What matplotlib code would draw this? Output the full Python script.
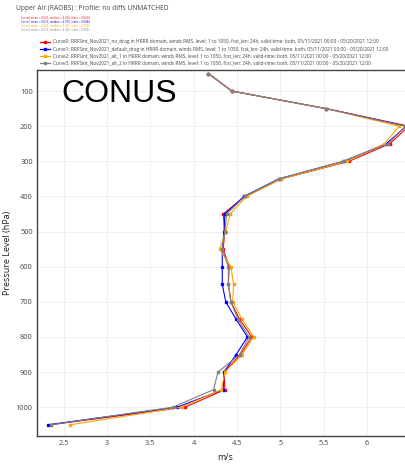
import matplotlib
matplotlib.use("Agg")
import matplotlib.pyplot as plt
from matplotlib.lines import Line2D

levels = [50, 100, 150, 200, 250, 300, 350, 400, 450, 500, 550,
          600, 650, 700, 750, 800, 850, 900, 950, 1000, 1050]

curve0 = [4.17, 4.44, 5.53, 6.48, 6.26, 5.79, 5.01, 4.59, 4.34, 4.36, 4.34,
          4.41, 4.40, 4.43, 4.53, 4.67, 4.54, 4.35, 4.36, 3.90, 2.35]
curve1 = [4.17, 4.44, 5.53, 6.45, 6.22, 5.73, 4.98, 4.58, 4.36, 4.35, 4.33,
          4.33, 4.33, 4.37, 4.49, 4.62, 4.49, 4.35, 4.34, 3.81, 2.32]
curve2 = [4.17, 4.44, 5.53, 6.37, 6.20, 5.77, 5.01, 4.61, 4.42, 4.37, 4.30,
          4.43, 4.46, 4.45, 4.56, 4.69, 4.56, 4.36, 4.32, 3.86, 2.58]
curve3 = [4.17, 4.44, 5.53, 6.44, 6.24, 5.72, 4.98, 4.59, 4.38, 4.36, 4.33,
          4.40, 4.40, 4.43, 4.51, 4.64, 4.53, 4.28, 4.23, 3.76, 2.35]

colors = ["#ff0000", "#0000ff", "#ffa500", "#808080"]
names = ["Curve0", "Curve1", "Curve2", "Curve3"]
exps = ["RRFSint_Nov2021_no_drag", "RRFSint_Nov2021_default_drag",
        "RRFSint_Nov2021_alt_1", "RRFSint_Nov2021_alt_2"]
stats = [("4.641", "4.436", "0.8454"), ("4.616", "4.376", "0.8446"),
         ("4.646", "4.456", "0.7956"), ("4.613", "4.425", "0.8401")]

xticks = [2.5, 3, 3.5, 4, 4.5, 5, 5.5, 6, 6.5]
xticklabels = ["2.5", "3", "3.5", "4", "4.5", "5", "5.5", "6", "6.5"]
yticks = [100, 200, 300, 400, 500, 600, 700, 800, 900, 1000]

plt.rcParams['font.family'] = ['Open Sans', 'DejaVu Sans']

fig = plt.figure(figsize=(4.05, 4.65), dpi=100)
ax = fig.add_axes([37/405, 1 - 436/465, 1 - 37/405 + 0.02, (436 - 70)/465])

series = [curve0, curve1, curve2, curve3]
for vals, c in zip(series, colors):
    ax.plot(vals, levels, color=c, lw=0.8, marker="s", ms=1.5, mec=c, mfc=c)

ax.set_xlim(2.194, 6.53)
ax.set_ylim(1082, 40)
ax.set_xticks(xticks)
ax.set_xticklabels(xticklabels)
ax.set_yticks(yticks)
ax.tick_params(labelsize=5.3, colors="#444444", length=0, pad=3)
ax.grid(True, color="#eeeeee", lw=0.6)
ax.set_axisbelow(True)
for s in ["left", "bottom", "top"]:
    ax.spines[s].set_color("#444444")
    ax.spines[s].set_linewidth(1.0)
ax.spines["right"].set_visible(False)

ax.set_ylabel("Pressure Level (hPa)", fontsize=6.5, color="#222222", labelpad=3)
ax.set_xlabel("m/s", fontsize=6.5, color="#222222", labelpad=4)

ax.text(0.065, 0.975, "CONUS", transform=ax.transAxes, fontsize=23,
        family="Liberation Sans", va="top", ha="left", color="black")

fig.text(16/405, 1 - 9/465, "Upper Air (RAOBS) : Profile: no diffs UNMATCHED",
         fontsize=4.8, color="#444444", va="center", ha="left")
for i, (n, st, c) in enumerate(zip(names, stats, colors)):
    txt = f"{n} mean = {st[0]}, median = {st[1]}, stdev = {st[2]}"
    fig.text(21/405, 1 - (17 + 4 * i)/465, txt, fontsize=2.0, color=c,
             va="center", ha="left")

for i, (n, e, c) in enumerate(zip(names, exps, colors)):
    y = 1 - (42 + 7 * i)/465
    fig.add_artist(Line2D([40/405, 50/405], [y, y], color=c, lw=0.9,
                          transform=fig.transFigure))
    fig.add_artist(Line2D([45/405], [y], color=c, marker="s", ms=1.8,
                          transform=fig.transFigure))
    txt = (f"{n}: {e} in HRRR domain, winds RMS, level: 1 to 1050, fcst_len: 24h, "
           f"valid-time: both, 05/11/2021 00:00 - 05/20/2021 12:00")
    fig.text(53/405, y, txt, fontsize=3.4, color="#444444", va="center", ha="left")

fig.savefig("out.png", dpi=100, facecolor="white")
